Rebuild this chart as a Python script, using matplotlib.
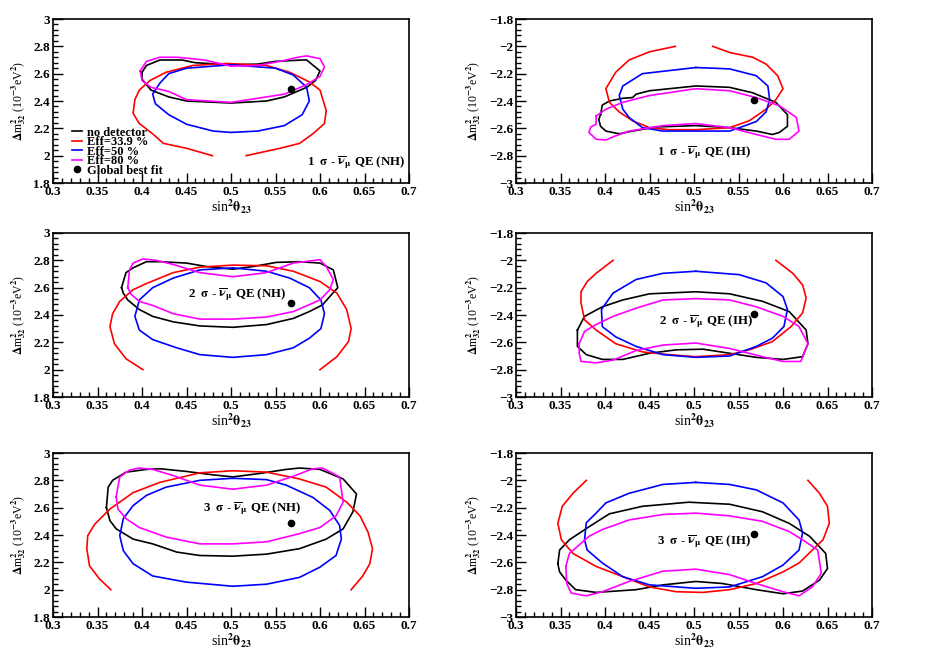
import matplotlib
matplotlib.use("Agg")
import matplotlib.pyplot as plt
from matplotlib.ticker import MultipleLocator
import numpy as np

# contour points: (sin^2 theta23, dm2_32 in 1e-3 eV^2)
# 1 sigma, NH
nh1_nodet = [(0.40, 2.61), (0.405, 2.66), (0.42, 2.70), (0.445, 2.70), (0.46, 2.68), (0.50, 2.665),
             (0.53, 2.67), (0.55, 2.69), (0.58, 2.70), (0.585, 2.70), (0.60, 2.62), (0.595, 2.55),
             (0.585, 2.50), (0.56, 2.43), (0.54, 2.40), (0.50, 2.385), (0.45, 2.40), (0.43, 2.43),
             (0.41, 2.48), (0.40, 2.56)]
nh1_eff339 = [(0.479, 2.0), (0.45, 2.054), (0.424, 2.09), (0.412, 2.16), (0.397, 2.235), (0.39, 2.31),
              (0.392, 2.41), (0.397, 2.48), (0.409, 2.55), (0.427, 2.61), (0.457, 2.66), (0.495, 2.675),
              (0.54, 2.66), (0.566, 2.61), (0.588, 2.54), (0.60, 2.48), (0.607, 2.33), (0.605, 2.235),
              (0.592, 2.16), (0.577, 2.09), (0.555, 2.054), (0.517, 2.0)]
nh1_eff50 = [(0.50, 2.665), (0.45, 2.64), (0.43, 2.60), (0.42, 2.53), (0.412, 2.45), (0.415, 2.38),
             (0.43, 2.30), (0.45, 2.23), (0.48, 2.18), (0.50, 2.17), (0.53, 2.18), (0.56, 2.22),
             (0.58, 2.30), (0.588, 2.40), (0.585, 2.50), (0.57, 2.59), (0.55, 2.64)]
nh1_eff80 = [(0.398, 2.62), (0.405, 2.69), (0.42, 2.72), (0.44, 2.72), (0.47, 2.70), (0.50, 2.655),
             (0.53, 2.66), (0.555, 2.69), (0.575, 2.72), (0.585, 2.73), (0.60, 2.71), (0.605, 2.65),
             (0.60, 2.58), (0.585, 2.52), (0.56, 2.45), (0.50, 2.39), (0.45, 2.41), (0.43, 2.47),
             (0.41, 2.50), (0.40, 2.55)]

# 1 sigma, IH
ih1_nodet = [(0.395, -2.50), (0.397, -2.43), (0.405, -2.40), (0.42, -2.38), (0.431, -2.375), (0.435, -2.35),
             (0.45, -2.325), (0.502, -2.29), (0.54, -2.30), (0.566, -2.34), (0.592, -2.41), (0.605, -2.50),
             (0.605, -2.585), (0.596, -2.63), (0.588, -2.645), (0.57, -2.62), (0.54, -2.595), (0.502, -2.58),
             (0.457, -2.59), (0.427, -2.625), (0.416, -2.64), (0.401, -2.62), (0.395, -2.585), (0.393, -2.535)]
ih1_eff339 = [(0.479, -2.0), (0.45, -2.04), (0.427, -2.10), (0.412, -2.19), (0.401, -2.31), (0.405, -2.41),
              (0.416, -2.48), (0.431, -2.545), (0.45, -2.595), (0.472, -2.61), (0.502, -2.61), (0.54, -2.595),
              (0.562, -2.545), (0.581, -2.46), (0.592, -2.39), (0.60, -2.31), (0.594, -2.215), (0.581, -2.13),
              (0.566, -2.08), (0.54, -2.045), (0.521, -2.0)]
ih1_eff50 = [(0.502, -2.155), (0.442, -2.20), (0.42, -2.29), (0.416, -2.36), (0.42, -2.46), (0.427, -2.52),
             (0.442, -2.595), (0.465, -2.62), (0.54, -2.62), (0.551, -2.595), (0.57, -2.55), (0.581, -2.48),
             (0.585, -2.39), (0.583, -2.29), (0.57, -2.215), (0.54, -2.165)]
ih1_eff80 = [(0.39, -2.51), (0.401, -2.46), (0.42, -2.41), (0.45, -2.36), (0.502, -2.31), (0.54, -2.325),
             (0.57, -2.375), (0.596, -2.435), (0.615, -2.52), (0.618, -2.62), (0.607, -2.68), (0.592, -2.68),
             (0.57, -2.645), (0.54, -2.595), (0.502, -2.565), (0.465, -2.58), (0.427, -2.62), (0.412, -2.655),
             (0.401, -2.685), (0.39, -2.68), (0.382, -2.63), (0.384, -2.59), (0.39, -2.57)]

# 2 sigma, NH
nh2_nodet = [(0.377, 2.60), (0.382, 2.71), (0.39, 2.745), (0.405, 2.79), (0.42, 2.79), (0.45, 2.78),
             (0.472, 2.755), (0.502, 2.735), (0.525, 2.755), (0.551, 2.785), (0.577, 2.79), (0.60, 2.78),
             (0.615, 2.73), (0.62, 2.60), (0.611, 2.535), (0.603, 2.475), (0.588, 2.425), (0.57, 2.375),
             (0.54, 2.33), (0.502, 2.31), (0.465, 2.32), (0.435, 2.35), (0.412, 2.39), (0.397, 2.44),
             (0.384, 2.51), (0.379, 2.56)]
nh2_eff339 = [(0.401, 2.0), (0.382, 2.08), (0.369, 2.19), (0.364, 2.315), (0.367, 2.41), (0.375, 2.50),
              (0.39, 2.585), (0.405, 2.63), (0.435, 2.71), (0.465, 2.75), (0.502, 2.765), (0.54, 2.76),
              (0.57, 2.72), (0.60, 2.645), (0.619, 2.56), (0.63, 2.44), (0.635, 2.30), (0.632, 2.205),
              (0.619, 2.095), (0.60, 2.0)]
nh2_eff50 = [(0.502, 2.745), (0.465, 2.73), (0.435, 2.67), (0.412, 2.60), (0.397, 2.51), (0.392, 2.39),
             (0.397, 2.29), (0.412, 2.22), (0.439, 2.16), (0.465, 2.11), (0.502, 2.09), (0.54, 2.11),
             (0.57, 2.16), (0.588, 2.23), (0.601, 2.30), (0.605, 2.41), (0.601, 2.51), (0.588, 2.60),
             (0.566, 2.67), (0.54, 2.72)]
nh2_eff80 = [(0.384, 2.60), (0.386, 2.73), (0.39, 2.78), (0.401, 2.81), (0.416, 2.80), (0.435, 2.77),
             (0.465, 2.71), (0.502, 2.68), (0.54, 2.71), (0.57, 2.78), (0.60, 2.805), (0.607, 2.755),
             (0.615, 2.66), (0.611, 2.585), (0.60, 2.51), (0.57, 2.425), (0.54, 2.385), (0.502, 2.37),
             (0.465, 2.37), (0.435, 2.41), (0.412, 2.47), (0.397, 2.50), (0.388, 2.55)]

# 2 sigma, IH
ih2_nodet = [(0.369, -2.51), (0.377, -2.41), (0.397, -2.34), (0.42, -2.29), (0.45, -2.245), (0.502, -2.23),
             (0.54, -2.245), (0.577, -2.30), (0.607, -2.375), (0.626, -2.51), (0.628, -2.61), (0.622, -2.705),
             (0.60, -2.725), (0.57, -2.71), (0.54, -2.68), (0.51, -2.65), (0.48, -2.655), (0.45, -2.68),
             (0.42, -2.725), (0.397, -2.725), (0.379, -2.69), (0.369, -2.63)]
ih2_eff339 = [(0.409, -2.0), (0.39, -2.095), (0.38, -2.155), (0.373, -2.23), (0.373, -2.31), (0.377, -2.435),
              (0.39, -2.51), (0.412, -2.61), (0.442, -2.67), (0.472, -2.69), (0.502, -2.705), (0.54, -2.69),
              (0.562, -2.655), (0.588, -2.595), (0.609, -2.485), (0.622, -2.385), (0.626, -2.275),
              (0.622, -2.18), (0.611, -2.095), (0.592, -2.0)]
ih2_eff50 = [(0.502, -2.08), (0.465, -2.095), (0.435, -2.14), (0.409, -2.24), (0.396, -2.36), (0.397, -2.485),
             (0.412, -2.56), (0.435, -2.63), (0.465, -2.69), (0.502, -2.71), (0.54, -2.70), (0.57, -2.63),
             (0.588, -2.57), (0.601, -2.485), (0.605, -2.36), (0.60, -2.265), (0.581, -2.165), (0.551, -2.105)]
ih2_eff80 = [(0.371, -2.61), (0.377, -2.52), (0.39, -2.47), (0.409, -2.41), (0.435, -2.35), (0.465, -2.29),
             (0.502, -2.28), (0.54, -2.29), (0.57, -2.34), (0.60, -2.41), (0.618, -2.485), (0.628, -2.61),
             (0.62, -2.74), (0.60, -2.74), (0.577, -2.705), (0.54, -2.645), (0.502, -2.605), (0.465, -2.62),
             (0.435, -2.66), (0.409, -2.73), (0.39, -2.75), (0.373, -2.74), (0.371, -2.68)]

# 3 sigma, NH
nh3_nodet = [(0.36, 2.60), (0.362, 2.75), (0.367, 2.80), (0.382, 2.86), (0.405, 2.88), (0.42, 2.885),
             (0.45, 2.865), (0.48, 2.84), (0.502, 2.825), (0.532, 2.85), (0.562, 2.88), (0.577, 2.89),
             (0.60, 2.88), (0.626, 2.81), (0.641, 2.70), (0.637, 2.57), (0.626, 2.445), (0.607, 2.37),
             (0.577, 2.30), (0.54, 2.26), (0.502, 2.245), (0.465, 2.25), (0.439, 2.275), (0.412, 2.335),
             (0.39, 2.37), (0.371, 2.445), (0.364, 2.505)]
nh3_eff339 = [(0.365, 2.0), (0.352, 2.08), (0.341, 2.175), (0.338, 2.30), (0.339, 2.395), (0.347, 2.48),
              (0.364, 2.59), (0.39, 2.71), (0.42, 2.785), (0.465, 2.855), (0.502, 2.87), (0.54, 2.86),
              (0.577, 2.81), (0.607, 2.75), (0.63, 2.64), (0.645, 2.54), (0.654, 2.42), (0.659, 2.30),
              (0.656, 2.19), (0.648, 2.10), (0.635, 2.0)]
nh3_eff50 = [(0.502, 2.815), (0.465, 2.80), (0.427, 2.75), (0.405, 2.69), (0.39, 2.615), (0.379, 2.52),
             (0.375, 2.395), (0.379, 2.285), (0.39, 2.19), (0.412, 2.10), (0.45, 2.055), (0.502, 2.025),
             (0.54, 2.04), (0.577, 2.09), (0.60, 2.165), (0.618, 2.25), (0.624, 2.37), (0.622, 2.47),
             (0.611, 2.58), (0.592, 2.675), (0.562, 2.765), (0.54, 2.805)]
nh3_eff80 = [(0.371, 2.68), (0.375, 2.825), (0.386, 2.875), (0.397, 2.89), (0.412, 2.88), (0.435, 2.835),
             (0.465, 2.765), (0.502, 2.735), (0.54, 2.765), (0.57, 2.83), (0.592, 2.885), (0.603, 2.89),
             (0.622, 2.825), (0.626, 2.64), (0.618, 2.54), (0.60, 2.455), (0.577, 2.41), (0.54, 2.35),
             (0.502, 2.335), (0.465, 2.335), (0.427, 2.385), (0.397, 2.455), (0.382, 2.52), (0.373, 2.59)]

# 3 sigma, IH
ih3_nodet = [(0.347, -2.61), (0.349, -2.51), (0.36, -2.435), (0.382, -2.34), (0.405, -2.245), (0.442, -2.19),
             (0.494, -2.16), (0.54, -2.175), (0.577, -2.23), (0.607, -2.315), (0.63, -2.41), (0.648, -2.535),
             (0.65, -2.645), (0.641, -2.73), (0.622, -2.81), (0.60, -2.83), (0.57, -2.80), (0.532, -2.755),
             (0.502, -2.74), (0.465, -2.765), (0.435, -2.80), (0.39, -2.82), (0.367, -2.80), (0.356, -2.73),
             (0.349, -2.67)]
ih3_eff339 = [(0.379, -2.0), (0.364, -2.095), (0.352, -2.19), (0.347, -2.315), (0.351, -2.435), (0.364, -2.535),
              (0.39, -2.63), (0.42, -2.705), (0.45, -2.78), (0.48, -2.815), (0.51, -2.82), (0.54, -2.80),
              (0.57, -2.755), (0.60, -2.67), (0.618, -2.605), (0.633, -2.51), (0.645, -2.435), (0.652, -2.315),
              (0.65, -2.19), (0.641, -2.095), (0.628, -2.0)]
ih3_eff50 = [(0.502, -2.015), (0.465, -2.03), (0.427, -2.095), (0.401, -2.165), (0.39, -2.24), (0.379, -2.31),
             (0.377, -2.435), (0.38, -2.51), (0.397, -2.605), (0.42, -2.705), (0.45, -2.765), (0.502, -2.79),
             (0.54, -2.78), (0.577, -2.705), (0.60, -2.62), (0.618, -2.51), (0.622, -2.385), (0.618, -2.29),
             (0.60, -2.165), (0.57, -2.07), (0.54, -2.03)]
ih3_eff80 = [(0.356, -2.63), (0.36, -2.535), (0.382, -2.41), (0.397, -2.36), (0.427, -2.29), (0.465, -2.25),
             (0.502, -2.24), (0.54, -2.26), (0.577, -2.30), (0.607, -2.375), (0.622, -2.435), (0.639, -2.51),
             (0.643, -2.68), (0.633, -2.78), (0.618, -2.845), (0.60, -2.815), (0.57, -2.755), (0.54, -2.69),
             (0.502, -2.65), (0.465, -2.665), (0.427, -2.74), (0.397, -2.815), (0.379, -2.845), (0.362, -2.825),
             (0.357, -2.755)]

best_fit_nh = (0.567, 2.49)
best_fit_ih = (0.567, -2.39)

labels = ['no detector', 'Eff=33.9 %', 'Eff=50 %', 'Eff=80 %']
colors = ['black', 'red', 'blue', 'magenta']
closed = [True, False, True, True]

panels = [
    ('1', 'NH', [nh1_nodet, nh1_eff339, nh1_eff50, nh1_eff80], (0.585, 1.95)),
    ('1', 'IH', [ih1_nodet, ih1_eff339, ih1_eff50, ih1_eff80], (0.458, -2.78)),
    ('2', 'NH', [nh2_nodet, nh2_eff339, nh2_eff50, nh2_eff80], (0.452, 2.55)),
    ('2', 'IH', [ih2_nodet, ih2_eff339, ih2_eff50, ih2_eff80], (0.461, -2.45)),
    ('3', 'NH', [nh3_nodet, nh3_eff339, nh3_eff50, nh3_eff80], (0.469, 2.59)),
    ('3', 'IH', [ih3_nodet, ih3_eff339, ih3_eff50, ih3_eff80], (0.458, -2.45)),
]

plt.rcParams['font.family'] = ['Liberation Serif', 'DejaVu Serif']
plt.rcParams['font.weight'] = 'bold'
plt.rcParams['mathtext.fontset'] = 'stix'
plt.rcParams['mathtext.default'] = 'bf'

fig = plt.figure(figsize=(9.26, 6.54), dpi=100)
lefts = [53/926., 516/926.]
bottoms = [1-183/654., 1-397/654., 1-617/654.]
w = 356/926.; h = 164/654.

for i, (nsig, hier, curves, txt_pos) in enumerate(panels):
    ax = fig.add_axes([lefts[i % 2], bottoms[i // 2], w, h])
    for k in range(4):
        pts = np.array(curves[k])
        if closed[k]:
            pts = np.vstack([pts, pts[:1]])
        ax.plot(pts[:, 0], pts[:, 1], color=colors[k], lw=1.2, label=labels[k])
    bf = best_fit_nh if hier == 'NH' else best_fit_ih
    ax.plot(bf[0], bf[1], 'o', color='black', ms=4.5, ls='none', label='Global best fit')
    ax.text(txt_pos[0], txt_pos[1], r'%s  $\sigma$ - $\overline{\nu}_{\mu}$ QE (%s)' % (nsig, hier),
            fontsize=9.3, fontweight='bold', va='center')

    ax.set_xlim(0.3, 0.7)
    if hier == 'NH':
        ax.set_ylim(1.8, 3.0)
        ax.set_yticks([1.8, 2.0, 2.2, 2.4, 2.6, 2.8, 3.0])
        ax.set_yticklabels(['1.8', '2', '2.2', '2.4', '2.6', '2.8', '3'])
    else:
        ax.set_ylim(-3.0, -1.8)
        ax.set_yticks([-3.0, -2.8, -2.6, -2.4, -2.2, -2.0, -1.8])
        ax.set_yticklabels(['\u22123', '\u22122.8', '\u22122.6', '\u22122.4', '\u22122.2', '\u22122', '\u22121.8'])
    ax.set_xticks([0.3, 0.35, 0.4, 0.45, 0.5, 0.55, 0.6, 0.65, 0.7])
    ax.set_xticklabels(['0.3', '0.35', '0.4', '0.45', '0.5', '0.55', '0.6', '0.65', '0.7'])
    ax.xaxis.set_minor_locator(MultipleLocator(0.01))
    ax.yaxis.set_minor_locator(MultipleLocator(0.04))
    ax.tick_params(which='both', direction='in', top=False, right=False, labelsize=9.5, pad=2)
    ax.tick_params(which='major', length=7, width=1)
    ax.tick_params(which='minor', length=3.5, width=1)
    for sp in ax.spines.values():
        sp.set_linewidth(1.2)
    ax.set_xlabel(r'sin$^{2}\theta_{23}$', fontsize=10, labelpad=0)
    ax.set_ylabel(r'$\Delta$m$^{2}_{32}$ (10$^{-3}$eV$^{2}$)', fontsize=8.5, labelpad=4)

    if i == 0:
        ax.legend(loc='lower left', bbox_to_anchor=(0.035, 0.0), frameon=False, fontsize=9,
                  handlelength=0.8, handletextpad=0.4, labelspacing=-0.2, borderpad=0.1,
                  borderaxespad=0.4)

fig.savefig('out.png', dpi=100)
